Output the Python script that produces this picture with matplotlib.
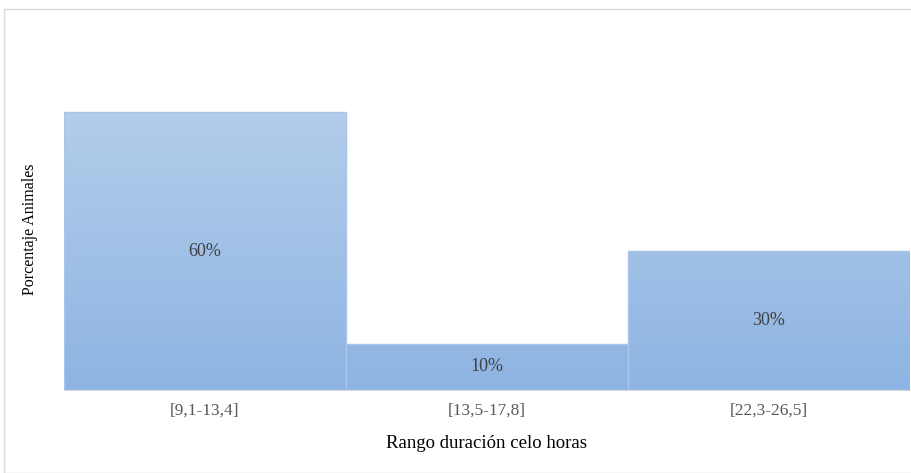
import matplotlib
matplotlib.use("Agg")
import matplotlib.pyplot as plt
import numpy as np
from matplotlib.colors import LinearSegmentedColormap
from matplotlib.patches import Rectangle

categories = ["[9,1-13,4]", "[13,5-17,8]", "[22,3-26,5]"]
values = [0.60, 0.10, 0.30]
labels = ["60%", "10%", "30%"]

plt.rcParams['font.family'] = ['Liberation Serif', 'DejaVu Serif']

fig = plt.figure(figsize=(9.11, 4.73), dpi=100)
fig.patches.append(Rectangle((4/911, 0), 1, 1 - 9/473, transform=fig.transFigure,
                             fill=False, edgecolor='#d9d9d9', linewidth=1.0))
ax = fig.add_axes([64/911, (473-390)/473, (910-64)/911, (390-66)/473])

x = np.arange(len(categories))
bars = ax.bar(x, values, width=1.0, color='none', edgecolor='#a9c6ea', linewidth=1.0, zorder=3)

cmap = LinearSegmentedColormap.from_list('g', ['#8eb4e3', '#b3cdea'])
grad = np.linspace(0, 1, 256).reshape(-1, 1)
top = max(values)
for b in bars:
    x0, w = b.get_x(), b.get_width()
    im = ax.imshow(grad, cmap=cmap, origin='lower', aspect='auto',
                   extent=[x0, x0 + w, 0, top], zorder=2)
    im.set_clip_path(b)

for xi, v, lab in zip(x, values, labels):
    ax.text(xi, v / 2, lab, ha='center', va='center', fontsize=13, color='#404040', zorder=4)

ax.set_xlim(-0.5, 2.5)
ax.set_ylim(0, 0.70)
ax.set_xticks(x)
ax.set_xticklabels(categories, fontsize=12.5, color='#595959')
ax.tick_params(axis='x', length=0, pad=9)
ax.set_yticks([])
for s in ['top', 'right', 'left']:
    ax.spines[s].set_visible(False)
ax.spines['bottom'].set_color('#d9d9d9')

ax.set_xlabel("Rango duración celo horas", fontsize=13.5, color='black', labelpad=12)
fig.text(30/911, (473-229)/473, "Porcentaje Animales", rotation=90, ha='center', va='center',
         fontsize=11.5, color='black')

fig.savefig("out.png", dpi=100)
